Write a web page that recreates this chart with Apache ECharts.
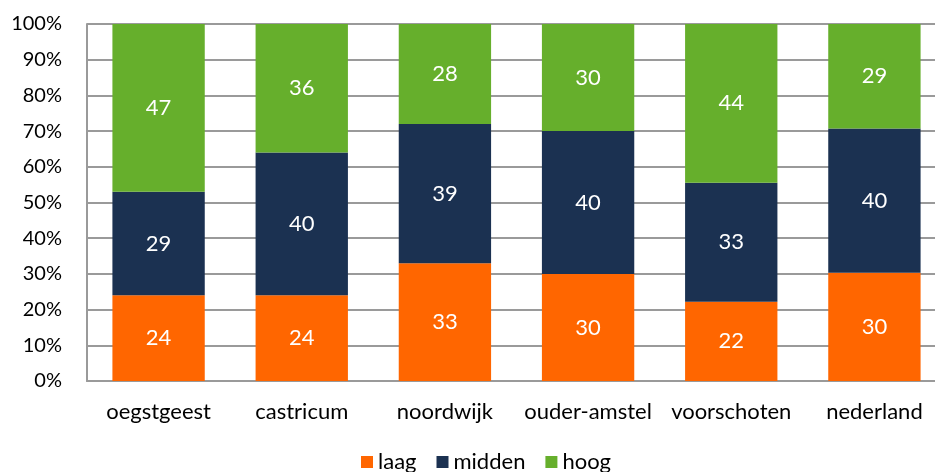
<!DOCTYPE html>
<html>
<head>
<meta charset="utf-8">
<script src="https://cdn.jsdelivr.net/npm/echarts@6/dist/echarts.min.js"></script>
<style>
html,body{margin:0;padding:0;background:#fff;overflow:hidden;}
#c{width:935px;height:472px;}
</style>
</head>
<body>
<div id="c"></div>
<script>
var categories = ['oegstgeest', 'castricum', 'noordwijk', 'ouder-amstel', 'voorschoten', 'nederland'];
var laag = [24, 24, 33, 30, 22, 30];
var midden = [29, 40, 39, 40, 33, 40];
var hoog = [47, 36, 28, 30, 44, 29];
var yTicks = [0, 10, 20, 30, 40, 50, 60, 70, 80, 90, 100];

var totals = categories.map(function (c, i) { return laag[i] + midden[i] + hoog[i]; });
function share(arr) { return arr.map(function (v, i) { return v / totals[i] * 100; }); }

var FONT = 'Lato';
function mk(name, arr, color) {
  return {
    name: name,
    type: 'bar',
    stack: 'total',
    data: share(arr),
    barCategoryGap: '35.5%',
    itemStyle: { color: color },
    label: {
      show: true,
      position: 'inside',
      color: '#ffffff',
      fontFamily: FONT,
      fontSize: 22,
      formatter: function (p) { return String(arr[p.dataIndex]); }
    }
  };
}

var chart = echarts.init(document.getElementById('c'));
chart.setOption({
  animation: false,
  backgroundColor: '#ffffff',
  grid: { left: 87, width: 859, top: 24, height: 357, containLabel: false, outerBoundsMode: 'none' },
  legend: {
    top: 451,
    left: 361,
    itemWidth: 12,
    itemHeight: 12,
    itemGap: 20,
    icon: 'rect',
    padding: 0,
    textStyle: { fontFamily: FONT, fontSize: 22, color: '#000' },
    data: ['laag', 'midden', 'hoog']
  },
  xAxis: {
    type: 'category',
    data: categories,
    axisLine: { show: true, lineStyle: { color: '#9a9a9a', width: 2 } },
    axisTick: { show: false },
    axisLabel: { interval: 0, fontFamily: FONT, fontSize: 22, color: '#000', margin: 20 }
  },
  yAxis: {
    type: 'value',
    min: yTicks[0],
    max: yTicks[yTicks.length - 1],
    interval: 10,
    axisLine: { show: true, lineStyle: { color: '#9a9a9a', width: 2 } },
    axisTick: { show: false },
    splitLine: { show: true, lineStyle: { color: '#9a9a9a', width: 2 } },
    axisLabel: { fontFamily: FONT, fontSize: 20, color: '#000', margin: 25, formatter: '{value}%' }
  },
  series: [
    mk('laag', laag, '#FF6600'),
    mk('midden', midden, '#1B3151'),
    mk('hoog', hoog, '#66AF2C')
  ]
});
</script>
</body>
</html>
